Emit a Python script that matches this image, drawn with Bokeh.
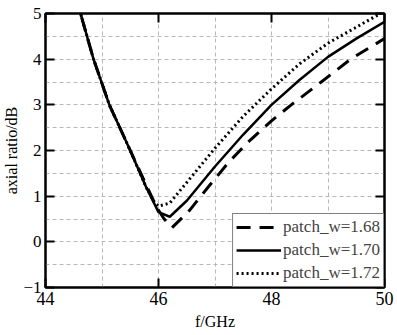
from bokeh.plotting import figure
from bokeh.models import (LinearAxis, FixedTicker, Range1d, Legend, LegendItem)
from bokeh.embed import file_html
from bokeh.resources import INLINE

# data
f_168 = [44.55, 44.62, 44.85, 45.13, 45.5, 45.78, 45.97, 46.1, 46.24, 46.55, 46.88, 47.24, 47.6, 48.0, 48.35, 48.88, 49.4, 50.0]
ar_168 = [5.4, 5.0, 4.0, 3.0, 2.0, 1.25, 0.75, 0.5, 0.31, 0.69, 1.2, 1.74, 2.2, 2.65, 3.0, 3.5, 4.0, 4.45]
f_170 = [44.55, 44.62, 44.85, 45.13, 45.5, 45.78, 46.0, 46.2, 46.5, 47.0, 47.5, 48.0, 48.5, 49.0, 49.5, 50.0]
ar_170 = [5.4, 5.0, 4.0, 3.0, 2.0, 1.2, 0.65, 0.55, 0.9, 1.65, 2.35, 3.0, 3.55, 4.05, 4.45, 4.82]
f_172 = [44.55, 44.62, 44.85, 45.13, 45.5, 45.78, 45.92, 46.0, 46.2, 46.5, 47.0, 47.5, 48.0, 48.5, 49.0, 49.5, 50.0]
ar_172 = [5.4, 5.0, 4.0, 3.0, 2.0, 1.2, 0.88, 0.78, 0.85, 1.3, 2.05, 2.75, 3.35, 3.9, 4.35, 4.7, 5.05]
labels = ["patch_w=1.68", "patch_w=1.70", "patch_w=1.72"]
x_major = [44, 46, 48, 50]
x_grid = [44, 45, 46, 47, 48, 49, 50]
y_major = [-1, 0, 1, 2, 3, 4, 5]
y_grid = [-1, -0.5, 0, 0.5, 1, 1.5, 2, 2.5, 3, 3.5, 4, 4.5, 5]

FONT = "Liberation Serif"

p = figure(width=397, height=335, output_backend="svg", toolbar_location=None,
           x_range=Range1d(44, 50), y_range=Range1d(-1, 5),
           min_border_left=0, min_border_right=13, min_border_top=13, min_border_bottom=48)

p.background_fill_color = "white"
p.border_fill_color = "white"
p.outline_line_color = "black"
p.outline_line_width = 2

# axes
p.xaxis.ticker = FixedTicker(ticks=x_major)
p.yaxis.ticker = FixedTicker(ticks=y_major)
for ax in (p.xaxis[0], p.yaxis[0]):
    ax.axis_line_color = "black"
    ax.axis_line_width = 2
    ax.major_tick_in = 9
    ax.major_tick_out = 0
    ax.major_tick_line_width = 2
    ax.minor_tick_line_color = None
    ax.major_label_text_font = FONT
    ax.major_label_text_font_size = "18px"
    ax.major_label_text_color = "black"
    ax.axis_label_text_font = FONT
    ax.axis_label_text_font_size = "16px"
    ax.axis_label_text_font_style = "normal"
    ax.axis_label_text_color = "black"
p.xaxis.axis_label = "f/GHz"
p.yaxis.axis_label = "axial ratio/dB"
p.xaxis.major_label_standoff = 4
p.xaxis.axis_label_standoff = 5
p.yaxis.major_label_standoff = 4
p.yaxis.axis_label_standoff = 0
p.yaxis.major_label_text_font_size = "17px"
p.yaxis.major_label_overrides = {-1: "\u22121"}

top = LinearAxis(ticker=FixedTicker(ticks=x_major),
                 major_label_overrides={t: "" for t in x_major},
                 major_tick_in=9, major_tick_out=0, major_tick_line_width=2,
                 minor_tick_line_color=None, axis_line_width=2, major_label_standoff=0)
right = LinearAxis(ticker=FixedTicker(ticks=y_major),
                   major_label_overrides={t: "" for t in y_major},
                   major_tick_in=9, major_tick_out=0, major_tick_line_width=2,
                   minor_tick_line_color=None, axis_line_width=2, major_label_standoff=0)
p.add_layout(top, "above")
p.add_layout(right, "right")

# grid
p.xgrid.ticker = FixedTicker(ticks=x_grid)
p.ygrid.ticker = FixedTicker(ticks=y_grid)
for g in (p.xgrid[0], p.ygrid[0]):
    g.grid_line_color = "#b8b8b8"
    g.grid_line_dash = "4 3"
    g.grid_line_width = 1

r1 = p.line(f_168, ar_168, line_color="black", line_width=3, line_dash="14 9")
r2 = p.line(f_170, ar_170, line_color="black", line_width=2.5)
r3 = p.line(f_172, ar_172, line_color="black", line_width=3, line_dash="2 3")

legend = Legend(items=[LegendItem(label=labels[0], renderers=[r1]),
                       LegendItem(label=labels[1], renderers=[r2]),
                       LegendItem(label=labels[2], renderers=[r3])],
                location="bottom_right", margin=0, padding=3, spacing=3,
                glyph_width=45, glyph_height=18, label_standoff=2,
                label_text_font=FONT, label_text_font_size="17px",
                label_height=18,
                border_line_color="black", border_line_width=1.5,
                background_fill_alpha=1.0)
p.add_layout(legend)

open("out.html", "w").write(file_html(p, INLINE))
